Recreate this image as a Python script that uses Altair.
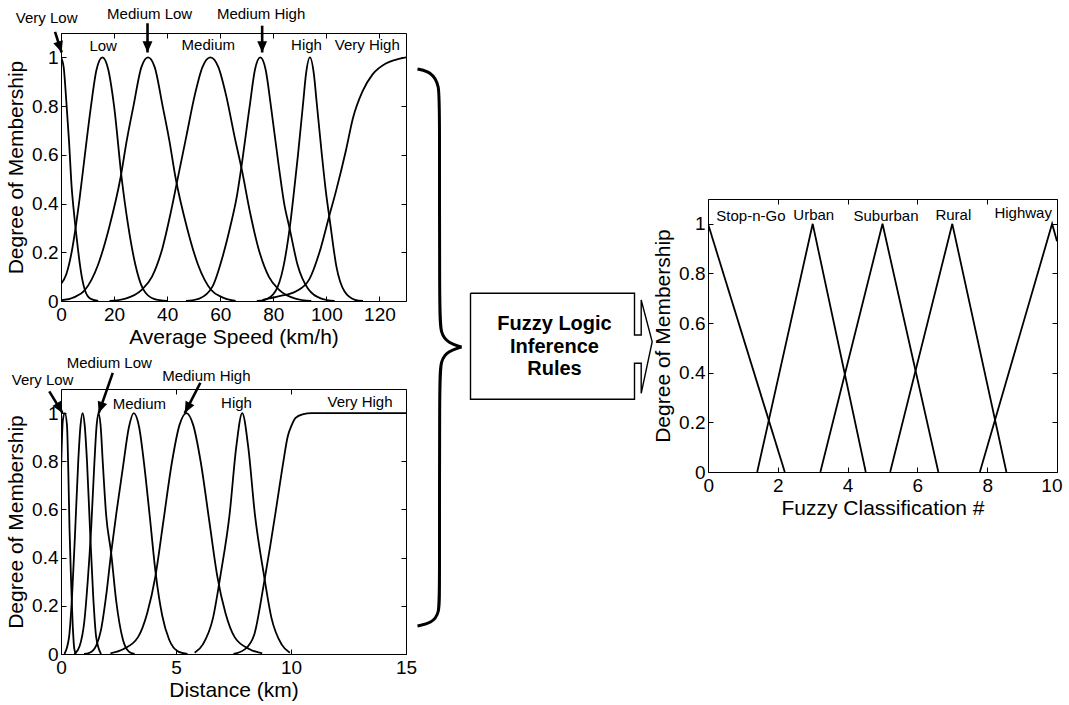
import altair as alt
import pandas as pd

FONT = "Liberation Sans"
BLACK = "#000000"

# ---------------- Average speed (km/h) membership curves ----------------
sp_vlow_x = [0, 1, 2, 3, 4, 5, 6, 7, 8, 9, 11, 14]
sp_vlow_y = [1, 0.96, 0.82, 0.66, 0.47, 0.35, 0.25, 0.16, 0.09, 0.045, 0.01, 0]
sp_low_x = [0, 2, 4, 5.5, 7, 9, 11.3, 13.4, 15.6, 17.8, 20, 22.8, 25.3, 28, 30.9, 35, 40]
sp_low_y = [0.07, 0.11, 0.2, 0.3, 0.42, 0.6, 0.8, 0.95, 1, 0.95, 0.8, 0.51, 0.31, 0.15, 0.05, 0.009, 0]
sp_mlow_x = [0, 4.8, 9, 14, 18.1, 22.5, 24.8, 27.3, 30.3, 32.8, 35.3, 38.3, 40.8, 43.1, 47.5, 51.6, 56.6, 60.8, 65.8]
sp_mlow_y = [0.003, 0.015, 0.045, 0.15, 0.3, 0.51, 0.66, 0.8, 0.96, 1, 0.96, 0.8, 0.66, 0.51, 0.3, 0.15, 0.045, 0.015, 0]
sp_med_x = [18.3, 24.3, 30.3, 34.3, 38.3, 41.3, 44.3, 47.3, 50.3, 53.3, 56.3, 59.3, 62.3, 65.3, 68.3, 71.3, 74.3, 78.3, 82.3, 88.3, 94.3]
sp_med_y = [0, 0.01, 0.045, 0.1, 0.22, 0.36, 0.52, 0.68, 0.84, 0.96, 1, 0.96, 0.84, 0.68, 0.53, 0.36, 0.22, 0.1, 0.045, 0.01, 0]
sp_mhigh_x = [47.1, 52.1, 57.1, 61.1, 64.1, 66.1, 68.1, 71.1, 73.1, 75.1, 77.1, 79.1, 82.1, 84.1, 86.1, 89.1, 93.1, 98.1, 103.1]
sp_mhigh_y = [0, 0.01, 0.06, 0.19, 0.32, 0.42, 0.56, 0.8, 0.95, 1, 0.95, 0.8, 0.55, 0.4, 0.3, 0.15, 0.05, 0.01, 0]
sp_high_x = [73.8, 76.8, 80.8, 83.8, 86.3, 87.8, 89.3, 91.3, 92.3, 93.8, 95.3, 96.3, 98.3, 99.8, 101.3, 103.8, 106.8, 110.8, 113.8]
sp_high_y = [0, 0.005, 0.04, 0.14, 0.31, 0.45, 0.6, 0.82, 0.93, 1, 0.93, 0.82, 0.6, 0.45, 0.33, 0.14, 0.04, 0.005, 0]
sp_vhigh_x = [76, 82.3, 88.6, 93.6, 97.4, 101.1, 103.6, 107.4, 110, 113.6, 117.4, 122.4, 126, 130]
sp_vhigh_y = [0.005, 0.02, 0.04, 0.09, 0.2, 0.35, 0.45, 0.62, 0.75, 0.86, 0.93, 0.975, 0.99, 1]

# ---------------- Distance (km) membership curves ----------------
di_vlow_x = [0, 0.08, 0.17, 0.26, 0.32, 0.37, 0.44, 0.52, 0.58, 0.65]
di_vlow_y = [0.75, 0.97, 1, 0.95, 0.75, 0.52, 0.3, 0.1, 0.02, 0]
di_low_x = [0.15, 0.35, 0.48, 0.62, 0.75, 0.85, 0.94, 1.03, 1.13, 1.26, 1.4, 1.53, 1.74]
di_low_y = [0, 0.07, 0.24, 0.52, 0.8, 0.95, 1, 0.95, 0.8, 0.52, 0.24, 0.07, 0]
di_mlow_x = [0.58, 0.8, 1.02, 1.16, 1.31, 1.45, 1.55, 1.63, 1.72, 1.82, 1.96, 2.18, 2.4, 2.69, 2.95, 3.2]
di_mlow_y = [0, 0.03, 0.14, 0.3, 0.52, 0.79, 0.95, 1, 0.95, 0.79, 0.58, 0.42, 0.22, 0.06, 0.01, 0]
di_med_x = [1.0, 1.24, 1.53, 1.74, 1.96, 2.18, 2.4, 2.7, 2.95, 3.16, 3.4, 3.6, 3.85, 4.11, 4.4, 4.7, 5.1, 5.5]
di_med_y = [0, 0.005, 0.035, 0.1, 0.24, 0.42, 0.58, 0.78, 0.94, 1, 0.94, 0.8, 0.58, 0.34, 0.16, 0.06, 0.01, 0]
di_mhigh_x = [2.15, 2.7, 3.35, 3.75, 4.1, 4.45, 4.83, 5.15, 5.45, 5.75, 6.07, 6.45, 6.8, 7.15, 7.55, 8.2, 8.75]
di_mhigh_y = [0.003, 0.02, 0.07, 0.17, 0.32, 0.55, 0.8, 0.95, 1, 0.95, 0.8, 0.55, 0.32, 0.17, 0.07, 0.02, 0.003]
di_high_x = [5.81, 6.17, 6.61, 6.94, 7.33, 7.62, 7.88, 8.14, 8.43, 8.82, 9.15, 9.59, 9.95]
di_high_y = [0.005, 0.04, 0.15, 0.33, 0.58, 0.86, 1, 0.86, 0.58, 0.33, 0.15, 0.04, 0.005]
di_vhigh_x = [7.5, 8.0, 8.4, 8.8, 9.1, 9.38, 9.67, 9.85, 10.03, 10.2, 10.5, 10.9, 15]
di_vhigh_y = [0, 0.02, 0.08, 0.28, 0.45, 0.62, 0.8, 0.9, 0.95, 0.98, 0.995, 1, 1]

# ---------------- Fuzzy classification (triangles) ----------------
cl_stop_x = [0, 2.2]
cl_stop_y = [1, 0]
cl_urban_x = [1.41, 3, 4.52]
cl_urban_y = [0, 1, 0]
cl_suburban_x = [3.22, 5, 6.6]
cl_suburban_y = [0, 1, 0]
cl_rural_x = [5.22, 7, 8.55]
cl_rural_y = [0, 1, 0]
cl_highway_x = [7.79, 9.86, 10]
cl_highway_y = [0, 1, 0.93]

# ---------------- Labels ----------------
sp_lab_text = ["Low", "Medium", "High", "Very High", "Very Low", "Medium Low", "Medium High"]
sp_lab_x = [15.9, 55.5, 92.5, 115.4, -5.4, 33.4, 75.4]
sp_lab_y = [1.045, 1.05, 1.05, 1.05, 1.16, 1.18, 1.18]
sp_arr_x = [-2.25, 32.6, 75.8]
sp_arr_y = [1.105, 1.14, 1.13]
sp_arr_x2 = [0.25, 32.6, 75.8]
sp_arr_y2 = [1.02, 1.02, 1.02]
sp_arr_ang = [341.5, 0, 0]

di_lab_text = ["Medium", "High", "Very High", "Very Low", "Medium Low", "Medium High"]
di_lab_x = [3.41, 7.63, 13.0, -0.8, 2.1, 6.32]
di_lab_y = [1.036, 1.04, 1.047, 1.136, 1.21, 1.153]
di_arr_x = [-0.51, 2.25, 6.06]
di_arr_y = [1.09, 1.167, 1.126]
di_arr_x2 = [0.07, 1.64, 5.38]
di_arr_y2 = [1.0, 1.0, 1.0]
di_arr_ang = [328.3, 19.3, 27.6]

cl_lab_text = ["Stop-n-Go", "Urban", "Suburban", "Rural", "Highway"]
cl_lab_x = [1.23, 3.03, 5.1, 7.03, 9.03]
cl_lab_y = [1.03, 1.035, 1.03, 1.035, 1.045]

YTICKS = [0, 0.2, 0.4, 0.6, 0.8, 1]
ARROW = "M0,0L-0.7,-1.6L0.7,-1.6Z"

# ---------------- Middle diagram (page pixel units) ----------------
brace_top_x = [418, 432, 440, 440, 440, 441, 449, 462]
brace_top_y = [69, 72, 85, 110, 312, 334, 343, 347]
brace_bot_x = [462, 449, 441, 440, 440, 440, 432, 418]
brace_bot_y = [347, 351, 360, 382, 590, 614, 623, 626]
box_x = [471, 635, 635, 641.7, 641.7, 652.7, 641.7, 641.7, 635, 635, 471, 471]
box_y = [293.3, 293.3, 335, 335, 300, 341.7, 393.3, 363.3, 363.3, 399.3, 399.3, 293.3]
box_text = ["Fuzzy Logic", "Inference", "Rules"]
box_text_x = [555, 555, 555]
box_text_y = [323.6, 346.6, 368.6]

MX0, MW = 418.5, 235
MY0, MH = 33, 600


def curves_df(pairs):
    rows = []
    for name, xs, ys in pairs:
        for i, (a, b) in enumerate(zip(xs, ys)):
            rows.append({"curve": name, "i": i, "x": a, "y": b})
    return pd.DataFrame(rows)


AX = dict(domain=False, grid=False, ticks=True, tickSize=5, offset=-5, tickColor=BLACK,
          tickWidth=1, labelFont=FONT, labelFontSize=19, labelColor=BLACK, titleFont=FONT,
          titleFontSize=21, titleFontWeight="normal", titleColor=BLACK,
          labelOverlap=False, minExtent=0)


def panel(df, labels, arrows, xdom, xticks, xtitle, w, h, interp, flush):
    xs = alt.Scale(domain=xdom, nice=False, zero=False)
    ys = alt.Scale(domain=[0, 1.1], nice=False, zero=False)
    flush_opts = dict(labelFlush=True, labelFlushOffset=5) if flush else dict(labelFlush=False)
    lines = alt.Chart(df).mark_line(color=BLACK, strokeWidth=1.8, interpolate=interp, clip=True).encode(
        x=alt.X("x:Q", scale=xs, axis=alt.Axis(orient="bottom", values=xticks, format="~r", title=xtitle,
                                               labelPadding=4, titlePadding=2, **flush_opts, **AX)),
        y=alt.Y("y:Q", scale=ys, axis=alt.Axis(orient="left", values=YTICKS, format="~r",
                                               title="Degree of Membership", labelPadding=3,
                                               titlePadding=5, labelFlush=False, **AX)),
        detail="curve:N",
        order="i:Q",
    )
    frame = alt.Chart(df).mark_line(strokeOpacity=0).encode(
        x=alt.X("x:Q", scale=xs, axis=alt.Axis(orient="top", values=xticks, labels=False, title="", **AX)),
        y=alt.Y("y:Q", scale=ys, axis=alt.Axis(orient="right", values=YTICKS, labels=False, title="", **AX)),
        detail="curve:N",
    )
    layers = [lines, frame]
    texts = alt.Chart(labels).mark_text(font=FONT, fontSize=15, color=BLACK, baseline="middle").encode(
        x=alt.X("x:Q", scale=xs, axis=None), y=alt.Y("y:Q", scale=ys, axis=None), text="label:N")
    layers.append(texts)
    if arrows is not None:
        shafts = alt.Chart(arrows).mark_rule(color=BLACK, strokeWidth=2.6).encode(
            x=alt.X("x:Q", scale=xs, axis=None), y=alt.Y("y:Q", scale=ys, axis=None), x2="x2:Q", y2="y2:Q")
        heads = alt.Chart(arrows).mark_point(shape=ARROW, filled=True, size=200, color=BLACK, opacity=1).encode(
            x=alt.X("x2:Q", scale=xs, axis=None), y=alt.Y("y2:Q", scale=ys, axis=None),
            angle=alt.Angle("ang:Q", scale=None))
        layers += [shafts, heads]
    return alt.layer(*layers).resolve_axis(x="independent", y="independent").properties(
        width=w, height=h, view=alt.ViewBackground(stroke=BLACK, strokeWidth=1))


speed_df = curves_df([
    ("Very Low", sp_vlow_x, sp_vlow_y), ("Low", sp_low_x, sp_low_y), ("Medium Low", sp_mlow_x, sp_mlow_y),
    ("Medium", sp_med_x, sp_med_y), ("Medium High", sp_mhigh_x, sp_mhigh_y), ("High", sp_high_x, sp_high_y),
    ("Very High", sp_vhigh_x, sp_vhigh_y)])
dist_df = curves_df([
    ("Very Low", di_vlow_x, di_vlow_y), ("Low", di_low_x, di_low_y), ("Medium Low", di_mlow_x, di_mlow_y),
    ("Medium", di_med_x, di_med_y), ("Medium High", di_mhigh_x, di_mhigh_y), ("High", di_high_x, di_high_y),
    ("Very High", di_vhigh_x, di_vhigh_y)])
class_df = curves_df([
    ("Stop-n-Go", cl_stop_x, cl_stop_y), ("Urban", cl_urban_x, cl_urban_y),
    ("Suburban", cl_suburban_x, cl_suburban_y), ("Rural", cl_rural_x, cl_rural_y),
    ("Highway", cl_highway_x, cl_highway_y)])

sp_labels = pd.DataFrame({"label": sp_lab_text, "x": sp_lab_x, "y": sp_lab_y})
sp_arrows = pd.DataFrame({"x": sp_arr_x, "y": sp_arr_y, "x2": sp_arr_x2, "y2": sp_arr_y2, "ang": sp_arr_ang})
di_labels = pd.DataFrame({"label": di_lab_text, "x": di_lab_x, "y": di_lab_y})
di_arrows = pd.DataFrame({"x": di_arr_x, "y": di_arr_y, "x2": di_arr_x2, "y2": di_arr_y2, "ang": di_arr_ang})
cl_labels = pd.DataFrame({"label": cl_lab_text, "x": cl_lab_x, "y": cl_lab_y})

chart_speed = panel(speed_df, sp_labels, sp_arrows, [0, 130], [0, 20, 40, 60, 80, 100, 120],
                    "Average Speed (km/h)", 345, 268, "monotone", False)
chart_dist = panel(dist_df, di_labels, di_arrows, [0, 15], [0, 5, 10, 15], "Distance (km)", 345, 265,
                   "monotone", False)
chart_class = panel(class_df, cl_labels, None, [0, 10], [0, 2, 4, 6, 8, 10], "Fuzzy Classification #",
                    349, 273, "linear", True)

# middle diagram
mxs = alt.Scale(domain=[MX0, MX0 + MW], nice=False, zero=False)
mys = alt.Scale(domain=[MY0, MY0 + MH], nice=False, zero=False, reverse=True)
brace_rows = []
for part, xs_, ys_ in [("top", brace_top_x, brace_top_y), ("bottom", brace_bot_x, brace_bot_y)]:
    for i, (a, b) in enumerate(zip(xs_, ys_)):
        brace_rows.append({"part": part, "i": i, "x": a, "y": b})
brace_df = pd.DataFrame(brace_rows)
box_df = pd.DataFrame({"i": list(range(len(box_x))), "x": box_x, "y": box_y})
boxtext_df = pd.DataFrame({"t": box_text, "x": box_text_x, "y": box_text_y})

brace = alt.Chart(brace_df).mark_line(color=BLACK, strokeWidth=3, interpolate="basis").encode(
    x=alt.X("x:Q", scale=mxs, axis=None), y=alt.Y("y:Q", scale=mys, axis=None),
    detail="part:N", order="i:Q")
box = alt.Chart(box_df).mark_line(color=BLACK, strokeWidth=1.4, interpolate="linear").encode(
    x=alt.X("x:Q", scale=mxs, axis=None), y=alt.Y("y:Q", scale=mys, axis=None), order="i:Q")
boxtext = alt.Chart(boxtext_df).mark_text(font=FONT, fontSize=20, fontWeight="bold", color=BLACK,
                                          baseline="middle").encode(
    x=alt.X("x:Q", scale=mxs, axis=None), y=alt.Y("y:Q", scale=mys, axis=None), text="t:N")
middle = alt.layer(brace, box, boxtext).properties(width=MW, height=MH,
                                                   view=alt.ViewBackground(stroke="transparent"))

spacer = alt.Chart(pd.DataFrame({"v": [0]})).mark_point(opacity=0, size=1).encode(
    x=alt.X("v:Q", axis=None), y=alt.Y("v:Q", axis=None)).properties(
    width=1, height=164, view=alt.ViewBackground(stroke="transparent"))

left_col = alt.vconcat(chart_speed, chart_dist, spacing=7)
right_col = alt.vconcat(spacer, chart_class, spacing=0)
left_mid = alt.hconcat(left_col, middle, spacing=-12)

chart = alt.hconcat(left_mid, right_col, spacing=-4).properties(
    padding={"left": 5, "top": 6, "right": 0, "bottom": 0}
).configure(font=FONT).configure_view(stroke="transparent")

chart.save("out.html", embed_options={"renderer": "svg", "actions": False})
